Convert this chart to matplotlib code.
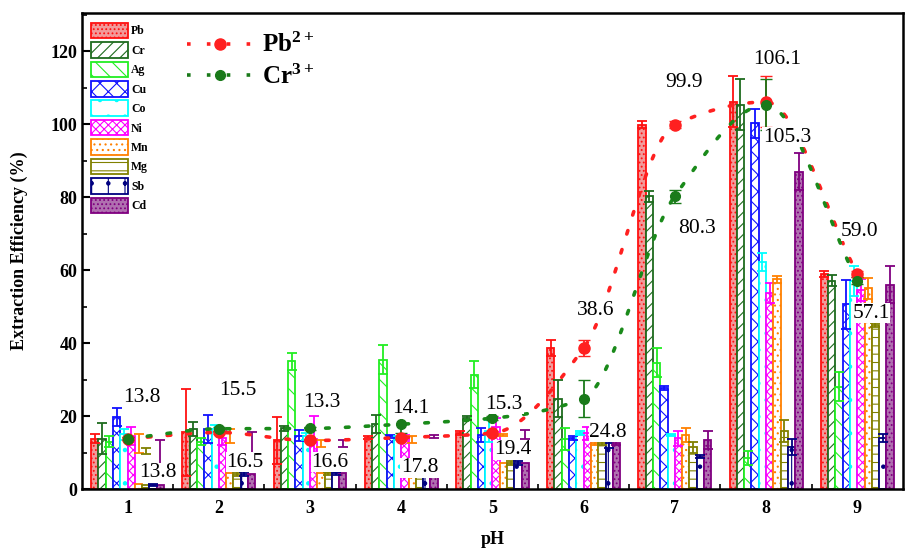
import numpy as np
import matplotlib
matplotlib.use("Agg")
import matplotlib.pyplot as plt
from matplotlib.patches import Patch
from matplotlib.lines import Line2D

plt.rcParams['font.family'] = ['Liberation Serif', 'DejaVu Serif']
plt.rcParams['hatch.linewidth'] = 0.8
plt.rcParams['mathtext.fontset'] = 'custom'
plt.rcParams['mathtext.rm'] = 'Liberation Serif'
plt.rcParams['mathtext.bf'] = 'Liberation Serif:bold'

ph = [1, 2, 3, 4, 5, 6, 7, 8, 9]
metals = ["Pb", "Cr", "Ag", "Cu", "Co", "Ni", "Mn", "Mg", "Sb", "Cd"]

# bar heights (%) per metal, pH 1..9
pb = [13.8, 15.5, 13.3, 14.1, 15.3, 38.6, 99.9, 106.1, 59.0]
cr = [13.8, 16.5, 16.6, 17.8, 19.4, 24.8, 80.3, 105.3, 57.1]
ag = [13.0, 13.0, 35.0, 35.5, 31.3, 13.6, 34.6, 8.5, 28.0]
cu = [19.7, 16.5, 14.6, 14.4, 14.8, 13.9, 27.7, 100.3, 50.7]
co = [15.0, 16.5, 14.4, 14.0, 16.0, 15.3, 14.8, 62.2, 57.0]
ni = [14.5, 14.0, 13.6, 14.3, 17.0, 15.3, 13.9, 53.8, 54.5]
mn = [1.5, 4.4, 4.3, 5.7, 7.1, 12.7, 14.8, 57.5, 55.0]
mg = [1.2, 4.2, 4.3, 5.7, 7.1, 12.7, 11.5, 16.0, 45.0]
sb = [1.2, 4.2, 4.3, 5.4, 7.1, 12.7, 8.9, 11.4, 14.0]
cd = [1.2, 4.2, 4.3, 5.7, 7.1, 12.7, 13.5, 87.0, 56.0]

# error bar centres (where they differ from the bar) and half-widths
pb_err = [1.2, 12.0, 6.4, 0.5, 0.5, 2.2, 1.0, 7.0, 0.8]
cr_err = [4.3, 2.0, 0.8, 2.5, 0.5, 5.0, 1.5, 7.0, 1.5]
ag_err = [1.5, 1.0, 2.3, 4.0, 3.7, 3.0, 4.0, 2.0, 4.0]
cu_err = [2.5, 3.8, 1.5, 0.5, 2.0, 0.5, 0.5, 4.0, 6.7]
co_err = [1.5, 1.0, 1.0, 0.5, 3.0, 0.5, 0.3, 2.5, 4.0]
ni_err = [2.5, 2.0, 6.5, 0.5, 2.5, 1.8, 2.0, 2.8, 3.0]
mn_mid = [12.5, 14.5, 12.5, 13.5, 14.8, 12.7, 14.8, 57.5, 55.0]
mn_err = [2.5, 2.0, 1.0, 1.0, 0.3, 0.5, 2.0, 1.0, 2.8]
mg_mid = [10.5, 4.2, 4.3, 5.7, 7.1, 12.7, 11.5, 16.0, 45.0]
mg_err = [0.8, 0.5, 0.5, 0.5, 0.5, 0.5, 1.5, 3.0, 0.5]
sb_err = [0.3, 0.5, 0.5, 0.5, 0.5, 1.5, 0.5, 2.2, 1.0]
cd_mid = [10.0, 12.6, 12.5, 14.4, 15.0, 12.7, 13.5, 87.0, 56.0]
cd_err = [3.5, 3.0, 1.0, 0.3, 1.2, 0.5, 2.5, 5.0, 5.0]

heights = [pb, cr, ag, cu, co, ni, mn, mg, sb, cd]
mids = [pb, cr, ag, cu, co, ni, mn_mid, mg_mid, sb, cd_mid]
errs = [pb_err, cr_err, ag_err, cu_err, co_err, ni_err, mn_err, mg_err, sb_err, cd_err]

colors = ["#ff1010", "#1e6b1e", "#22ee22", "#1010ff", "#00ffff",
          "#ff00ff", "#ff8000", "#808000", "#000080", "#800080"]
faces = ["#f29a9a", "white", "white", "white", "white",
         "white", "white", "white", "white", "#b070b0"]
hatches = ["....", "///", "\\\\", "xx", ". ", "xxxx", "...", "--", "|.", "...."]

# Pb2+ / Cr3+ extraction points
pb_ion = [13.8, 15.5, 13.3, 14.1, 15.3, 38.6, 99.9, 106.1, 59.0]
pb_ion_err = [0.5, 0.5, 0.5, 0.5, 0.5, 2.2, 1.0, 7.0, 0.8]
cr_ion = [13.8, 16.5, 16.6, 17.8, 19.4, 24.8, 80.3, 105.3, 57.1]
cr_ion_err = [0.5, 0.5, 0.5, 2.5, 0.5, 5.0, 1.8, 7.0, 1.0]

# label positions for the values
pb_lab_x = [1.16, 2.21, 3.13, 4.11, 5.13, 6.13, 7.10, 8.12, 9.03]
pb_lab_y = [25.0, 27.0, 23.6, 22.0, 23.3, 49.0, 111.5, 117.8, 70.7]
cr_lab_x = [1.33, 2.29, 3.22, 4.20, 5.22, 6.27, 7.24, 8.23, 9.15]
cr_lab_y = [4.4, 7.4, 7.4, 5.8, 10.7, 15.6, 71.5, 96.4, 48.2]


def pchip(x, y, xs):
    # shape preserving cubic through the points (like Origin's spline connect)
    x = np.asarray(x, float)
    y = np.asarray(y, float)
    h = np.diff(x)
    delta = np.diff(y) / h
    n = len(x)
    m = np.zeros(n)
    for k in range(1, n - 1):
        if delta[k - 1] * delta[k] > 0:
            w1 = 2 * h[k] + h[k - 1]
            w2 = h[k] + 2 * h[k - 1]
            m[k] = (w1 + w2) / (w1 / delta[k - 1] + w2 / delta[k])
    m[0] = delta[0]
    m[-1] = delta[-1]
    idx = np.clip(np.searchsorted(x, xs) - 1, 0, n - 2)
    t = (xs - x[idx]) / h[idx]
    h00 = 2 * t ** 3 - 3 * t ** 2 + 1
    h10 = t ** 3 - 2 * t ** 2 + t
    h01 = -2 * t ** 3 + 3 * t ** 2
    h11 = t ** 3 - t ** 2
    return (h00 * y[idx] + h10 * h[idx] * m[idx]
            + h01 * y[idx + 1] + h11 * h[idx] * m[idx + 1])


fig = plt.figure(figsize=(9.06, 5.51), dpi=100)
ax = fig.add_axes([0.0905, 0.1125, 0.906, 0.864])

w = 0.08
x = np.array(ph, float)
for i, m in enumerate(metals):
    xi = x + (i - 4.5) * w
    ax.bar(xi, heights[i], width=w, color=faces[i], edgecolor=colors[i],
           hatch=hatches[i], linewidth=1.3, zorder=2)
    ax.errorbar(xi, mids[i], yerr=errs[i], fmt='none', ecolor=colors[i],
                elinewidth=1.3, capsize=3.5, capthick=1.3, zorder=3)

xs = np.linspace(1, 9, 300)
ax.plot(xs, pchip(ph, pb_ion, xs), color="#ff2020",
        linestyle=(0, (1, 4.5)), linewidth=2.6, dash_capstyle='round', zorder=4)
ax.plot(xs, pchip(ph, cr_ion, xs), color="#1a8a1a",
        linestyle=(0, (1, 4.5)), linewidth=2.6, dash_capstyle='round', zorder=4)
ax.errorbar(ph, pb_ion, yerr=pb_ion_err, fmt='o', color="#ff2020", ms=8,
            elinewidth=1.3, capsize=4, zorder=5)
ax.errorbar(ph, cr_ion, yerr=cr_ion_err, fmt='o', color="#1a7a1a", ms=7,
            elinewidth=1.3, capsize=4, zorder=5)

for i in range(len(ph)):
    ax.text(pb_lab_x[i], pb_lab_y[i], f"{pb_ion[i]:.1f}", fontsize=15.5,
            ha='center', va='center', zorder=6,
            bbox=dict(facecolor='white', edgecolor='none', pad=0.5))
    ax.text(cr_lab_x[i], cr_lab_y[i], f"{cr_ion[i]:.1f}", fontsize=15.5,
            ha='center', va='center', zorder=6,
            bbox=dict(facecolor='white', edgecolor='none', pad=0.5))

ax.set_xlim(0.5, 9.5)
ax.set_ylim(0, 130.5)
ax.set_xticks(ph)
ax.set_xticks(np.arange(1.5, 9.5, 1), minor=True)
ax.set_yticks(np.arange(0, 121, 20))
ax.set_yticks(np.arange(10, 131, 20), minor=True)
ax.tick_params(direction='in', which='major', length=6, width=1.5,
               labelsize=13, top=False, right=False)
ax.tick_params(axis='x', which='major', pad=8)
ax.tick_params(direction='in', which='minor', length=3.5, width=1.2,
               top=False, right=False)
for lab in ax.get_xticklabels() + ax.get_yticklabels():
    lab.set_fontweight('bold')
for sp in ax.spines.values():
    sp.set_linewidth(1.8)

ax.set_xlabel("pH", fontsize=13, fontweight='bold', labelpad=10)
ax.set_ylabel("Extraction Efficiency (%)", fontsize=13, fontweight='bold', labelpad=16)

handles = [Patch(facecolor=faces[i], edgecolor=colors[i], hatch=hatches[i],
                 linewidth=1.3, label=metals[i]) for i in range(len(metals))]
leg1 = ax.legend(handles=handles, loc='upper left', bbox_to_anchor=(0.001, 0.997),
                 frameon=False, prop={'weight': 'bold', 'size': 8.5},
                 handlelength=3.1, handleheight=1.65, labelspacing=0.33,
                 handletextpad=0.3, borderpad=0.2)
ax.add_artist(leg1)

ion_handles = [
    Line2D([], [], color="#ff2020", linestyle=(0, (1, 4.5)), linewidth=2.6,
           marker='o', ms=8, label=r"$\mathbf{Pb^{2+}}$"),
    Line2D([], [], color="#1a7a1a", linestyle=(0, (1, 4.5)), linewidth=2.6,
           marker='o', ms=7, label=r"$\mathbf{Cr^{3+}}$"),
]
ax.legend(handles=ion_handles, loc='upper left', bbox_to_anchor=(0.10, 1.005),
          frameon=False, fontsize=18, handlelength=2.7, labelspacing=0.3,
          handletextpad=0.3)

fig.savefig("out.png", dpi=100)
